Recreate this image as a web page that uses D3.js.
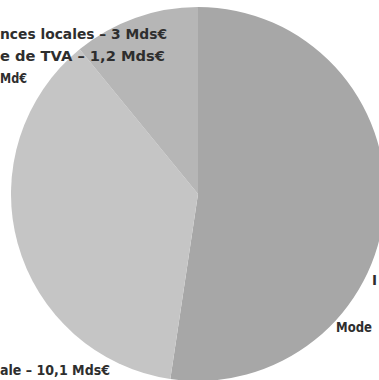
<!DOCTYPE html>
<html>
<head>
<meta charset="utf-8">
<script src="https://cdn.jsdelivr.net/npm/d3@7"></script>
<style>
  html, body { margin: 0; padding: 0; background: #fff; }
  svg { display: block; }
  text { font-family: "DejaVu Sans", sans-serif; font-weight: bold; fill: #2e2e2e; }
</style>
</head>
<body>
<svg id="chart" width="379" height="380"></svg>
<script>
// Slices, clockwise from 12 o'clock (Mds€)
const categories = ["Mode", "ale", "nces locales"];
const values = [14.4, 10.1, 3.0];
const colors = ["#a7a7a7", "#c5c5c5", "#b6b6b6"];

// Labels along the edges of the chart
const labelTexts = [
  "nces locales – 3 Mds€",
  "e de TVA – 1,2 Mds€",
  "Md€",
  "ale – 10,1 Mds€",
  "Mode",
  "I"
];

const svg = d3.select("#chart");
const cx = 198, cy = 194, r = 187;

const pie = d3.pie().sort(null).value(d => d.value);
const arc = d3.arc().innerRadius(0).outerRadius(r);
const data = categories.map((c, i) => ({ name: c, value: values[i], color: colors[i] }));

svg.append("g")
  .attr("transform", `translate(${cx},${cy})`)
  .selectAll("path")
  .data(pie(data))
  .join("path")
  .attr("d", arc)
  .attr("fill", d => d.data.color);

const labelPos = [
  { x: 0, y: 39, w: 167 },
  { x: 0, y: 61, w: 165 },
  { x: 0, y: 83, w: 27 },
  { x: 0, y: 375, w: 110 },
  { x: 336, y: 332, w: 36 },
  { x: 372, y: 285, w: null }
];

svg.append("g")
  .selectAll("text")
  .data(labelTexts)
  .join("text")
  .attr("x", (d, i) => labelPos[i].x)
  .attr("y", (d, i) => labelPos[i].y)
  .attr("font-size", 13.5)
  .each(function(d, i) {
    if (labelPos[i].w) d3.select(this).attr("textLength", labelPos[i].w).attr("lengthAdjust", "spacingAndGlyphs");
  })
  .text(d => d);
</script>
</body>
</html>
